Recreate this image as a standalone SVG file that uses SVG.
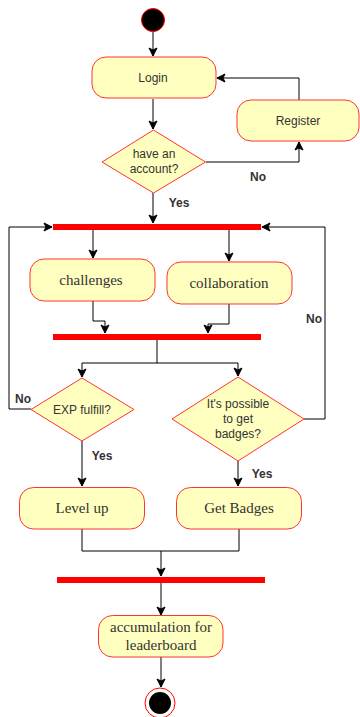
<svg xmlns="http://www.w3.org/2000/svg" width="360" height="717" viewBox="0 0 360 717">
<defs>
<marker id="arr" markerWidth="10" markerHeight="10" refX="9" refY="5" orient="auto" markerUnits="userSpaceOnUse">
<path d="M1,1 L9,5 L1,9 L3,5 Z" fill="#000" stroke="#000" stroke-width="1"/>
</marker>
<style>
.act{fill:#ffffc0;stroke:#ff3333;stroke-width:1}
.bar{fill:#ff0000;stroke:none}
.sans{font-family:"Liberation Sans",Arial,sans-serif;font-size:12px;fill:#333;text-anchor:middle}
.serif{font-family:"Liberation Serif","Times New Roman",serif;font-size:15px;fill:#333;text-anchor:middle}
.lbl{font-family:"Liberation Sans",Arial,sans-serif;font-size:12px;font-weight:bold;fill:#333;text-anchor:middle}
.edge{fill:none;stroke:#000;stroke-width:1}
</style>
</defs>
<rect width="360" height="717" fill="#fff"/>
<g id="connectors">
<path class="edge" d="M153,32 V56" marker-end="url(#arr)"/>
<path class="edge" d="M153,99 V129" marker-end="url(#arr)"/>
<path class="edge" d="M206,162 H299 V142" marker-end="url(#arr)"/>
<path class="edge" d="M299,100 V78 H217" marker-end="url(#arr)"/>
<path class="edge" d="M153,193 V223" marker-end="url(#arr)"/>
<path class="edge" d="M93,230 V258" marker-end="url(#arr)"/>
<path class="edge" d="M229,230 V261" marker-end="url(#arr)"/>
<path class="edge" d="M93,301 V321 H105 V333" marker-end="url(#arr)"/>
<path class="edge" d="M229,304 V324 H208 V333" marker-end="url(#arr)"/>
<path class="edge" d="M157,340 V363 H82 V377" marker-end="url(#arr)"/>
<path class="edge" d="M157,363 H238 V376" marker-end="url(#arr)"/>
<path class="edge" d="M31,409 H9 V227 H52" marker-end="url(#arr)"/>
<path class="edge" d="M304,419 H325 V227 H262" marker-end="url(#arr)"/>
<path class="edge" d="M82,441 V486" marker-end="url(#arr)"/>
<path class="edge" d="M238,461 V486" marker-end="url(#arr)"/>
<path class="edge" d="M82,529 V551 H239 V529"/>
<path class="edge" d="M161,551 V576" marker-end="url(#arr)"/>
<path class="edge" d="M161,582 V615" marker-end="url(#arr)"/>
<path class="edge" d="M161,657 V687" marker-end="url(#arr)"/>
</g>
<g id="labels">
<text class="lbl" x="258" y="181">No</text>
<text class="lbl" x="179" y="207">Yes</text>
<text class="lbl" x="23" y="403">No</text>
<text class="lbl" x="314" y="323">No</text>
<text class="lbl" x="102" y="460">Yes</text>
<text class="lbl" x="262" y="478">Yes</text>
</g>
<g id="start"><circle cx="153" cy="20" r="11.5" fill="#000" stroke="#ff0000" stroke-width="1"/></g>
<g id="login"><rect class="act" x="92" y="57" width="124" height="41" rx="14"/><text class="sans" x="153" y="81.5">Login</text></g>
<g id="register"><rect class="act" x="237" y="100" width="122" height="41" rx="14"/><text class="sans" x="298" y="124.5">Register</text></g>
<g id="account"><polygon class="act" points="153.5,130 205.5,162 153.5,193 102,162"/><text class="sans" x="154" y="158">have an</text><text class="sans" x="154" y="173">account?</text></g>
<g id="fork1"><rect class="bar" x="53" y="224" width="208" height="6"/></g>
<g id="challenges"><rect class="act" x="30" y="259" width="125" height="42" rx="14"/><text class="serif" x="91" y="285">challenges</text></g>
<g id="collaboration"><rect class="act" x="167" y="262" width="125" height="42" rx="14"/><text class="serif" x="229" y="288">collaboration</text></g>
<g id="join1"><rect class="bar" x="53" y="334" width="208" height="6"/></g>
<g id="exp"><polygon class="act" points="82,378 134,409.5 82,441 31,409.5"/><text class="sans" x="82" y="413.5">EXP fulfill?</text></g>
<g id="badgesq"><polygon class="act" points="238,377 304,419 238,461 172,419"/><text class="sans" x="238" y="408">It's possible</text><text class="sans" x="238" y="423">to get</text><text class="sans" x="238" y="438">badges?</text></g>
<g id="levelup"><rect class="act" x="19.5" y="487.5" width="125" height="41.5" rx="14"/><text class="serif" x="82" y="513">Level up</text></g>
<g id="getbadges"><rect class="act" x="176.5" y="487.5" width="125" height="41.5" rx="14"/><text class="serif" x="239" y="513">Get Badges</text></g>
<g id="join2"><rect class="bar" x="57" y="577" width="208" height="6"/></g>
<g id="accum"><rect class="act" x="98.5" y="615.5" width="124.5" height="41.5" rx="14"/><text class="serif" x="161" y="632">accumulation for</text><text class="serif" x="161" y="650">leaderboard</text></g>
<g id="end"><circle cx="160" cy="703" r="15" fill="#fff" stroke="#ff0000" stroke-width="1"/><circle cx="160" cy="703" r="11" fill="#000"/></g>
</svg>
